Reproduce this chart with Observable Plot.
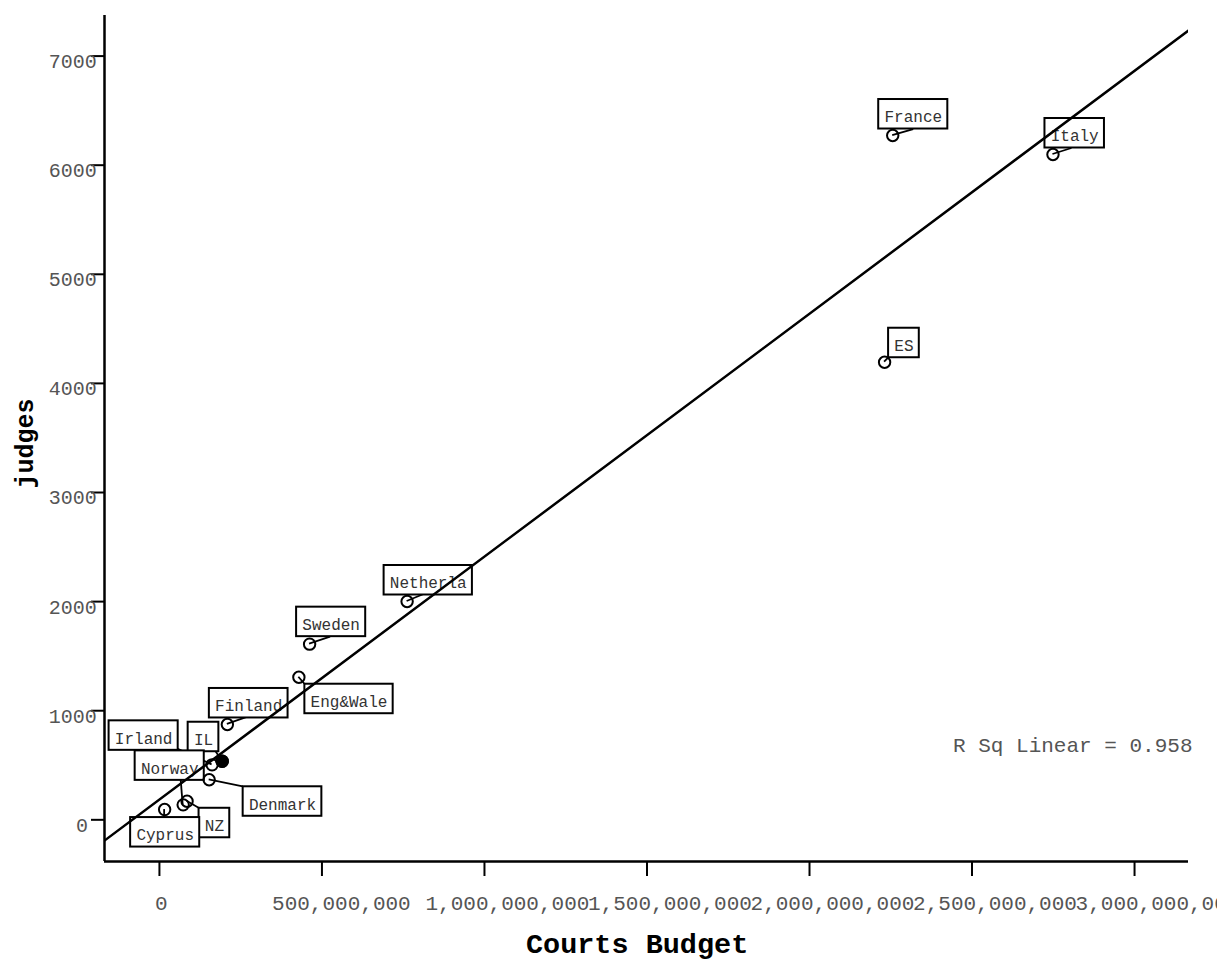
<!DOCTYPE html>
<html>
<head>
<meta charset="utf-8">
<script src="https://cdn.jsdelivr.net/npm/d3@7"></script>
<script src="https://cdn.jsdelivr.net/npm/@observablehq/plot@0.6"></script>
<style>
  html, body { margin: 0; padding: 0; background: #fff; overflow: hidden; }
</style>
</head>
<body>
<div id="chart"></div>
<script>
// ---- data ----
const names   = ["France", "Italy", "ES", "Netherla", "Sweden", "Eng&Wale", "Finland", "Irland", "IL", "Norway", "Denmark", "NZ", "Cyprus"];
const budget  = [2256e6, 2749e6, 2231e6, 762e6, 462e6, 429e6, 209e6, 162e6, 193e6, 73e6, 153e6, 85e6, 16e6];
const judges  = [6272, 6098, 4194, 2001, 1610, 1307, 874, 504, 537, 137, 367, 170, 94];
const highlighted = ["IL"];
const xTicks = [0, 5e8, 1e9, 1.5e9, 2e9, 2.5e9, 3e9];
const yTicks = [0, 1000, 2000, 3000, 4000, 5000, 6000, 7000];
const xDomain = [-169e6, 3166e6];
const yDomain = [-382, 7372];
const fitIntercept = 186;
const fitSlope = 2.2264e-6;
const rSq = 0.958;
const xTitle = "Courts Budget";
const yTitle = "judges";

// ---- label layout (pixel offsets from each point: box left/top, leader end) ----
const labelLayout = {
  "France":   [-14, -36, 21, -6],
  "Italy":    [-8, -36, 19, -6],
  "ES":       [4, -34, 4, -4],
  "Netherla": [-23, -36, 17, -7],
  "Sweden":   [-13, -37, 21, -7],
  "Eng&Wale": [6, 7, 6, 7],
  "Finland":  [-18, -36, 20, -7],
  "Irland":   [-103, -44, -35, -16],
  "IL":       [-34, -39, -7, -11],
  "Norway":   [-48, -54, -2, -25],
  "Denmark":  [34, 7, 34, 7],
  "NZ":       [12, 7, 12, 7],
  "Cyprus":   [-34, 8, 0, 8]
};

const data = names.map((name, i) => ({name, budget: budget[i], judges: judges[i]}));
const fitLine = xDomain.map(x => ({budget: x, judges: fitIntercept + fitSlope * x}));

const FONT = '"Liberation Mono", "Courier New", monospace';
const CHAR_W = 9.6, PAD = 5.75, BOX_H = 29.5;
const EST_W = 9.07; // the width per character the original used to place tick labels
const boxW = s => s.length * CHAR_W + 2 * PAD;
const fmtX = d3.format(",");
const fmtY = d3.format("d");

const labelMarks = data.map(d => {
  const [bx, by] = labelLayout[d.name];
  return Plot.text([d], {
    x: "budget", y: "judges", text: "name",
    dx: bx + boxW(d.name) / 2, dy: by + 17.6,
    fontSize: 16, fill: "#333", textAnchor: "middle", lineAnchor: "middle", ariaDescription: "label"
  });
});

const xTickLabels = xTicks.map(t => {
  const s = fmtX(t);
  return Plot.text([t], {x: d => d, text: () => s, frameAnchor: "bottom", textAnchor: "start",
    lineAnchor: "middle", dx: -EST_W / 2 * s.length, dy: 41.5, fontSize: 21, fill: "#555"});
});
const yTickLabels = yTicks.map(t => {
  const s = fmtY(t);
  return Plot.text([t], {y: d => d, text: () => s, frameAnchor: "left", textAnchor: "start",
    lineAnchor: "middle", dx: -19.4 - EST_W * s.length, dy: 5.5, fontSize: 20, fill: "#555"});
});

const chart = Plot.plot({
  width: 1217, height: 960,
  marginLeft: 104, marginRight: 29, marginTop: 15, marginBottom: 99,
  style: {fontFamily: FONT, background: "white", color: "black", overflow: "visible"},
  x: {domain: xDomain},
  y: {domain: yDomain},
  marks: [
    Plot.axisX({ticks: xTicks, tickFormat: () => "", tickSize: 15, stroke: "black", strokeWidth: 2, label: null}),
    Plot.axisY({ticks: yTicks, tickFormat: () => "", tickSize: 13, stroke: "black", strokeWidth: 2, label: null}),
    ...xTickLabels,
    ...yTickLabels,
    Plot.ruleX([xDomain[0]], {stroke: "black", strokeWidth: 2.5}),
    Plot.ruleY([yDomain[0]], {stroke: "black", strokeWidth: 2.5}),
    Plot.text([xTitle], {text: d => d, frameAnchor: "bottom", textAnchor: "middle", lineAnchor: "middle",
      dy: 82.6, dx: -9.4, fontSize: 28.5, fontWeight: "bold", fill: "black"}),
    Plot.text([yTitle], {text: d => d, frameAnchor: "left", textAnchor: "middle", lineAnchor: "middle",
      rotate: -90, dx: -80, dy: 5, fontSize: 25, fontWeight: "bold", fill: "black"}),
    Plot.text([`R Sq Linear = ${rSq}`], {text: d => d, frameAnchor: "bottom-right", textAnchor: "end",
      lineAnchor: "middle", dx: 4, dy: -116, fontSize: 21, fill: "#555"}),
    ...labelMarks,
    Plot.dot(data, {x: "budget", y: "judges", r: 5.7, stroke: "black", strokeWidth: 2, fill: "none", ariaDescription: "points"}),
    Plot.dot(data.filter(d => highlighted.includes(d.name)), {x: "budget", y: "judges", r: 6.7, fill: "black", stroke: "none"}),
    Plot.line(fitLine, {x: "budget", y: "judges", stroke: "black", strokeWidth: 2.5, clip: true})
  ]
});

document.getElementById("chart").append(chart);

// ---- label boxes and leader lines, placed from the rendered points ----
const ns = "http://www.w3.org/2000/svg";
const circles = chart.querySelectorAll('g[aria-description="points"] circle');
const firstLabel = chart.querySelector('g[aria-description="label"]');
const gLead = document.createElementNS(ns, "g");
const gBox = document.createElementNS(ns, "g");
data.forEach((d, i) => {
  const c = circles[i];
  if (!c) return;
  const cx = +c.getAttribute("cx"), cy = +c.getAttribute("cy");
  const [bx, by, ax, ay] = labelLayout[d.name];
  const ln = document.createElementNS(ns, "line");
  ln.setAttribute("x1", cx); ln.setAttribute("y1", cy);
  ln.setAttribute("x2", cx + ax); ln.setAttribute("y2", cy + ay);
  ln.setAttribute("stroke", "black"); ln.setAttribute("stroke-width", 1.8);
  gLead.append(ln);
  const r = document.createElementNS(ns, "rect");
  r.setAttribute("x", cx + bx); r.setAttribute("y", cy + by);
  r.setAttribute("width", boxW(d.name)); r.setAttribute("height", BOX_H);
  r.setAttribute("fill", "white"); r.setAttribute("stroke", "black"); r.setAttribute("stroke-width", 2);
  gBox.append(r);
});
chart.insertBefore(gLead, firstLabel);
chart.insertBefore(gBox, firstLabel);
</script>
</body>
</html>
